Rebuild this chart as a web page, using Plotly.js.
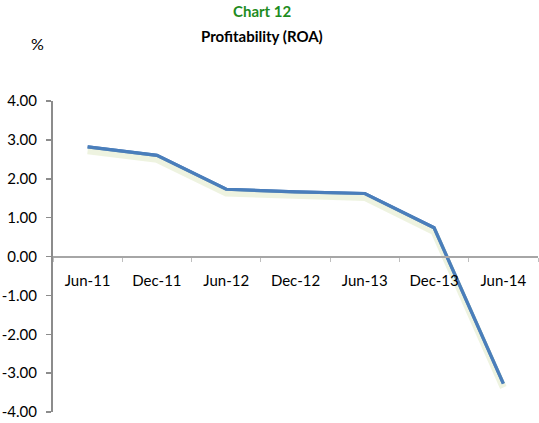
<!DOCTYPE html>
<html>
<head>
<meta charset="utf-8">
<script src="https://cdn.plot.ly/plotly-3.0.1.min.js"></script>
<style>html,body{margin:0;padding:0;background:#fff;}#chart{width:539px;height:423px;}</style>
</head>
<body>
<div id="chart"></div>
<script>
const categories = ["Jun-11","Dec-11","Jun-12","Dec-12","Jun-13","Dec-13","Jun-14"];
const roa = [2.82, 2.60, 1.73, 1.66, 1.62, 0.74, -3.27];
const yTickVals = [-4, -3, -2, -1, 0, 1, 2, 3, 4];
const yTickText = ["-4.00","-3.00","-2.00","-1.00","0.00","1.00","2.00","3.00","4.00"];
const titleTop = "Chart 12";
const titleMain = "Profitability (ROA)";
const unitLabel = "%";

const FONT = "Lato, 'Open Sans', sans-serif";
const W = 539, H = 423;
const L = 53, R = 1, T = 101, B = 11;
const plotH = H - T - B, plotW = W - L - R;
const px2x = x => (x - L) / plotW;
const px2y = y => (H - B - y) / plotH;

const lineStyle = {color: "#4a7ebb", width: 3.2};
const traces = [
  {
    x: categories, y: roa, type: "scatter", mode: "lines",
    line: lineStyle, showlegend: false
  },
  {
    x: categories, y: roa, type: "scatter", mode: "lines",
    yaxis: "y2", hoverinfo: "skip",
    line: {color: "rgba(205,222,165,0.35)", width: 7},
    showlegend: false
  },
  {
    x: categories, y: roa, type: "scatter", mode: "lines",
    yaxis: "y3", hoverinfo: "skip",
    line: lineStyle, showlegend: false
  }
];

const layout = {
  width: W, height: H,
  margin: {l: L, r: R, t: T, b: B, pad: 0},
  paper_bgcolor: "#ffffff", plot_bgcolor: "#ffffff",
  font: {family: FONT, size: 15, color: "#000"},
  showlegend: false,
  xaxis: {
    type: "category", range: [-0.5, 6.5],
    anchor: "free", position: 0.5,
    showline: true, linecolor: "#a6a6a6", linewidth: 2,
    ticks: "outside", tickson: "boundaries", ticklen: 4, tickcolor: "#bfbfbf", tickwidth: 1,
    ticklabelstandoff: 10,
    tickfont: {family: FONT, size: 15, color: "#000"},
    showgrid: false, zeroline: false, fixedrange: true
  },
  yaxis: {
    range: [-4, 4], tickvals: yTickVals, ticktext: yTickText,
    showline: true, linecolor: "#8c8c8c", linewidth: 2,
    ticks: "outside", ticklen: 5, tickcolor: "#8c8c8c", tickwidth: 1.5,
    ticklabelstandoff: 6,
    tickfont: {family: FONT, size: 15, color: "#000"},
    showgrid: false, zeroline: false, fixedrange: true
  },
  yaxis2: {
    overlaying: "y", range: [-3.9, 4.1], visible: false, fixedrange: true
  },
  yaxis3: {
    overlaying: "y", range: [-4, 4], visible: false, fixedrange: true
  },
  annotations: [
    {text: "<b>" + titleTop + "</b>", xref: "paper", yref: "paper",
     x: px2x(262), y: px2y(11), xanchor: "center", yanchor: "middle", showarrow: false,
     font: {family: FONT, size: 15, color: "#1e8c1e"}},
    {text: "<b>" + titleMain + "</b>", xref: "paper", yref: "paper",
     x: px2x(262), y: px2y(36), xanchor: "center", yanchor: "middle", showarrow: false,
     font: {family: FONT, size: 15, color: "#000"}},
    {text: unitLabel, xref: "paper", yref: "paper",
     x: px2x(37), y: px2y(43), xanchor: "center", yanchor: "middle", showarrow: false,
     font: {family: FONT, size: 16, color: "#000"}}
  ]
};

Plotly.newPlot("chart", traces, layout, {displayModeBar: false, staticPlot: true});
</script>
</body>
</html>
